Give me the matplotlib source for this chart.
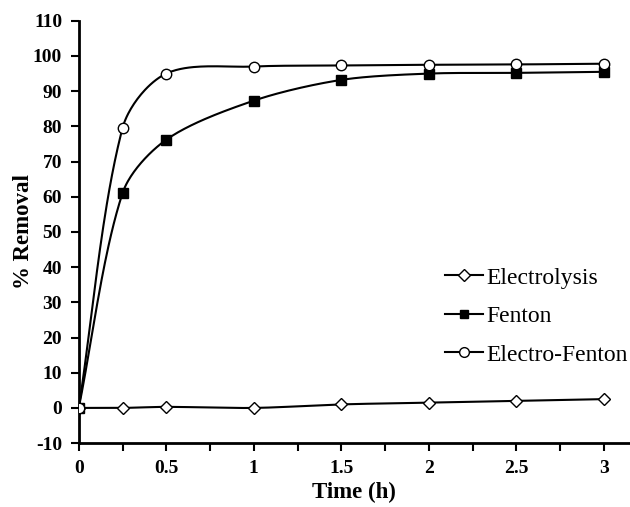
import numpy as np
import matplotlib
matplotlib.use("Agg")
import matplotlib.pyplot as plt
from matplotlib.ticker import MultipleLocator

# data
time_h = [0, 0.25, 0.5, 1, 1.5, 2, 2.5, 3]
electrolysis = [0, 0, 0.3, 0, 1, 1.5, 2, 2.5]
fenton = [0, 61, 76.2, 87.3, 93.2, 95, 95.2, 95.5]
electro_fenton = [0, 79.5, 95, 97, 97.3, 97.5, 97.6, 97.8]
labels = ["Electrolysis", "Fenton", "Electro-Fenton"]

# rough pixel scale of the axes, used so the smoothing works in screen space
SX, SY = 175.0, 3.52


def smooth(x, y, n=40, k=0.3):
    # smoothed line like a spreadsheet chart: bezier segments, chord-scaled tangents
    p = np.column_stack([np.asarray(x, float) * SX, np.asarray(y, float) * SY])
    m = len(p)
    tang = np.zeros_like(p)
    for i in range(m):
        a = p[i - 1] if i > 0 else p[i]
        b = p[i + 1] if i + 1 < m else p[i]
        tang[i] = b - a
    out = []
    for i in range(m - 1):
        d = np.linalg.norm(p[i + 1] - p[i])
        t0, t1 = tang[i], tang[i + 1]
        n0 = np.linalg.norm(t0) or 1.0
        n1 = np.linalg.norm(t1) or 1.0
        c1 = p[i] + t0 / n0 * d * k
        c2 = p[i + 1] - t1 / n1 * d * k
        t = np.linspace(0, 1, n)[:, None]
        seg = ((1 - t) ** 3 * p[i] + 3 * (1 - t) ** 2 * t * c1
               + 3 * (1 - t) * t ** 2 * c2 + t ** 3 * p[i + 1])
        out.append(seg)
    out = np.vstack(out)
    return out[:, 0] / SX, out[:, 1] / SY


plt.rcParams["font.family"] = ["Liberation Serif", "DejaVu Serif"]
plt.rcParams["axes.unicode_minus"] = False

fig = plt.figure(figsize=(6.3, 5.07), dpi=100)
ax = fig.add_axes([0.125, 0.126, 0.875, 0.833])

series = [
    (electrolysis, "D", "white", 6.5),
    (fenton, "s", "black", 6.5),
    (electro_fenton, "o", "white", 7.5),
]
for vals, m, fc, ms in series:
    sx, sy = smooth(time_h, vals)
    ax.plot(sx, sy, color="black", lw=1.5, zorder=2)
    ax.plot(time_h, vals, ls="none", marker=m, mfc=fc, mec="black", ms=ms,
            mew=1.0, zorder=3)

# legend handles with line through the marker
leg_handles = []
for vals, m, fc, ms in series:
    lh, = ax.plot([], [], color="black", lw=1.5, marker=m, mfc=fc, mec="black",
                  ms=ms - 0.5, mew=1.0)
    leg_handles.append(lh)
ax.legend(leg_handles, labels, loc="center right", bbox_to_anchor=(1.035, 0.30),
          frameon=False, fontsize=17, handlelength=1.6, handletextpad=0.15,
          labelspacing=0.72)

ax.set_xlim(0, 3.15)
ax.set_ylim(-10, 110)
ax.xaxis.set_minor_locator(MultipleLocator(0.25))
ax.yaxis.set_major_locator(MultipleLocator(10))
ax.set_xticks([0, 0.5, 1, 1.5, 2, 2.5, 3])
ax.set_xticklabels(["0", "0.5", "1", "1.5", "2", "2.5", "3"])

for s in ["top", "right"]:
    ax.spines[s].set_visible(False)
for s in ["left", "bottom"]:
    ax.spines[s].set_linewidth(2)
ax.tick_params(which="both", direction="out", width=1.5, labelsize=14)
ax.tick_params(which="major", length=6, pad=6)
ax.tick_params(which="minor", length=6)
for lab in ax.get_xticklabels() + ax.get_yticklabels():
    lab.set_fontweight("bold")

ax.set_xlabel("Time (h)", fontsize=16.5, fontweight="bold", labelpad=4)
ax.set_ylabel("% Removal", fontsize=16.5, fontweight="bold", labelpad=-1)

fig.savefig("out.png", dpi=100)
